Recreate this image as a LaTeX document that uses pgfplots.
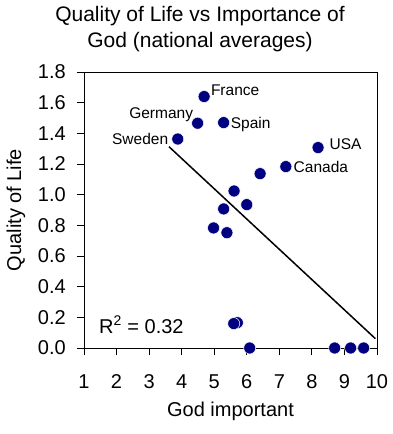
\documentclass[border=0pt]{standalone}
\usepackage{pgfplots}
\pgfplotsset{compat=1.18}
\usepackage{pgfplotstable}
\usepackage{fontspec}
\setmainfont{Liberation Sans}
\definecolor{navy}{HTML}{000080}

\pgfplotstableread{
x y
4.69 1.640
4.49 1.466
5.29 1.470
3.88 1.363
8.19 1.307
7.20 1.183
6.41 1.137
5.61 1.024
5.29 0.907
6.00 0.935
4.98 0.783
5.39 0.752
5.71 0.165
5.60 0.159
6.09 0.000
8.70 0.000
9.19 0.000
9.59 0.000
}\points

\pgfplotsset{
  lab/.style n args={4}{only marks, mark=none, nodes near coords={#1},
    nodes near coords style={anchor=#2, xshift=#3, yshift=#4, inner sep=0pt,
      font=\fontsize{15.5}{18}\selectfont, text=black}},
}

\begin{document}
\begin{tikzpicture}
\path[use as bounding box] (-84pt,-86pt) rectangle (308pt,348pt);
\begin{axis}[
  at={(0,0)}, anchor=south west,
  scale only axis, width=293pt, height=276pt,
  xmin=1, xmax=10, ymin=0, ymax=1.8,
  xtick={1,2,3,4,5,6,7,8,9,10},
  ytick={0,0.2,0.4,0.6,0.8,1.0,1.2,1.4,1.6,1.8},
  tick align=outside, tick pos=left,
  major tick length=7pt,
  axis line style={line width=0.8pt},
  every tick/.style={black, line width=0.8pt},
  /pgf/number format/assume math mode=true,
  tick label style={font=\fontsize{20}{24}\selectfont, inner sep=0pt},
  xticklabel style={anchor=base, yshift=-33pt},
  yticklabel style={anchor=east, xshift=-11pt, /pgf/number format/.cd, fixed, fixed zerofill, precision=1, /tikz/.cd},
  xlabel={God important},
  ylabel={Quality of Life},
  label style={font=\fontsize{20}{24}\selectfont},
  xlabel style={at={(axis description cs:0.5,-0.228)}, anchor=center},
  ylabel style={at={(axis description cs:-0.232,0.5)}, anchor=center},
  title={Quality of Life vs Importance of\\God (national averages)},
  title style={at={(axis description cs:0.396,1)}, anchor=north, yshift=60pt, align=center, inner sep=0pt, font=\fontsize{21}{26}\selectfont},
  clip=false,
]
\addplot[only marks, mark=*, mark size=6pt, mark options={fill=navy, draw=white, line width=0.5pt}] table[x=x, y=y] {\points};
\addplot[lab={France}{base west}{6.7pt}{1pt}] coordinates {(4.69,1.640)};
\addplot[lab={Germany}{base east}{-4.4pt}{5pt}] coordinates {(4.49,1.466)};
\addplot[lab={Spain}{base west}{7pt}{-6pt}] coordinates {(5.29,1.470)};
\addplot[lab={Sweden}{base east}{-9.4pt}{-5pt}] coordinates {(3.88,1.363)};
\addplot[lab={USA}{base west}{11.3pt}{-1.6pt}] coordinates {(8.19,1.307)};
\addplot[lab={Canada}{base west}{7.7pt}{-6pt}] coordinates {(7.20,1.183)};
\addplot[black, line width=1.5pt] coordinates {(3.61,1.313) (9.95,0.061)};
\node[anchor=base west, inner sep=0pt, font=\fontsize{20}{24}\selectfont] at (axis cs:1.46,0.096) {R\textsuperscript{2} = 0.32};
\end{axis}
\end{tikzpicture}
\end{document}
